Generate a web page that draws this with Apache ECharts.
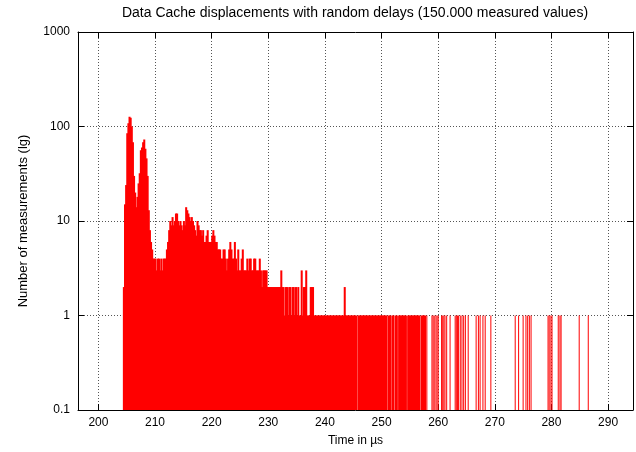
<!DOCTYPE html>
<html><head><meta charset="utf-8">
<script src="https://cdn.jsdelivr.net/npm/echarts@6/dist/echarts.min.js"></script>
<style>html,body{margin:0;padding:0;background:#fff}#c{width:636px;height:452px}</style>
</head><body><div id="c"></div>
<script>
const titleText = 'Data Cache displacements with random delays (150.000 measured values)';
const xName = 'Time in \u00b5s';
const yName = 'Number of measurements (lg)';
const xMin = 196.4, xMax = 294.4;
const yMin = 0.1, yMax = 1000;

// histogram bins of the dense part (bin centres start at binStart, spaced binStep)
const binStart = 204.5;
const binStep = 0.2;
const denseCounts = [
  2,15,24,85,108,127,124,100,68,30,20,14,18,25,32,56,60,68,73,58,46,30,13,8,6,5,4,
  4,4,3,4,4,3,4,3,4,4,4,5,
  6,8,10,9,11,9,10,12,12,10, 9,10,9,8,10,9,14,13,12,11, 10,11,10,9,8,7,10,9,8,8,
  7,8,6,6,7,8,6,6,6,7, 8,7,6,6,5,5,5,4,4,5, 5,4,3,4,
  5,6,5,4,4,6,4,3,5,3, 3,4,5,3,3,3,4,3,4,4, 3,3,4,4,3,3,3,4,3,2, 3,3,3,3,2,
  2,2,2,2,2,2,2,2,2,2, 2,3,2,2,1,2,2,1,2,2, 1,2,2,1,2,1,2,1,1,3, 1,2,2,3,1,1,1,2,2,2,
  1,1,1,1,1,1,1,1,1,1,1,1,1,1,1,1,1,1,1,1,1,1,1,1,1,1,1,
  2,
  1,1,1,1,1,1,1,1,1,1,
  0,
  1,1,1,1,1,1,1,1,1,1,1,1,1,1,1,1,1,1,1,1,1,1,1,1,1,1,
  0,1,1,0,1,1,0,1,1,0,
  1,1,1,1,1,1,1,0,1,1,1,1,1,1,1,1,1,1,1,0,1,1,1,1
];

// isolated single measurements in the tail
const sparseTimes = [258.0,258.9,259.1,259.3,259.6,259.8,260.0,260.6,260.8,261.0,261.2,261.5,262.1,
  263.0,263.2,263.4,263.6,263.9,264.2,264.5,264.8,265.3,266.7,267.1,267.4,267.9,268.3,269.3,
  273.6,274.2,275.0,275.5,275.8,276.1,276.4,279.4,279.6,279.9,280.1,281.2,281.5,281.7,284.9,286.5];
const sparseCounts = [1,1,1,1,1,1,1,1,1,1,1,1,1,1,1,1,1,1,1,1,1,1,1,1,1,1,1,1,1,1,1,1,1,1,1,1,1,1,1,1,1,1,1,1];

const denseData = denseCounts.map((c, i) => [+(binStart + i * binStep).toFixed(2), c]);
const sparseData = sparseTimes.map((t, i) => [t, sparseCounts[i]]);

const FONT = 'Liberation Sans, Arial, Helvetica, sans-serif';

function impulse(widthFn) {
  return function (params, api) {
    const x = api.value(0), y = api.value(1);
    if (!(y > 0)) return null;
    const top = api.coord([x, y]);
    const bot = api.coord([x, yMin]);
    const w = widthFn(api, x, y);
    return {
      type: 'rect',
      shape: { x: top[0] - w / 2, y: top[1], width: w, height: bot[1] - top[1] },
      style: { fill: '#ff0000' }
    };
  };
}

const chart = echarts.init(document.getElementById('c'), null, { renderer: 'canvas' });
const axisLineStyle = { color: '#000', width: 1 };
chart.setOption({
  animation: false,
  backgroundColor: '#fff',
  title: {
    text: titleText, left: 350, top: 1, textAlign: 'center',
    textStyle: { fontFamily: FONT, fontSize: 14, fontWeight: 'normal', color: '#000' }
  },
  grid: { left: 78, right: 3, top: 32, bottom: 42, containLabel: false, outerBoundsMode: 'none' },
  xAxis: [{
    type: 'value', min: xMin, max: xMax, splitNumber: 10,
    name: xName, nameLocation: 'middle', nameGap: 25, nameMoveOverlap: false,
    nameTextStyle: { fontFamily: FONT, fontSize: 12, color: '#000' },
    axisLine: { lineStyle: axisLineStyle },
    axisTick: { inside: true, length: 6, lineStyle: axisLineStyle },
    axisLabel: { showMinLabel: false, showMaxLabel: false, color: '#000', fontFamily: FONT, fontSize: 12, margin: 7 },
    splitLine: { show: true, lineStyle: { color: '#555', width: 1, type: [1, 2] } }
  }, {
    type: 'value', position: 'top', min: xMin, max: xMax, splitNumber: 10,
    axisLine: { show: true, lineStyle: axisLineStyle },
    axisTick: { show: true, inside: true, length: 6, lineStyle: axisLineStyle },
    axisLabel: { show: false }, splitLine: { show: false }
  }],
  yAxis: [{
    type: 'log', logBase: 10, min: yMin, max: yMax,
    name: yName, nameLocation: 'middle', nameGap: 48, nameMoveOverlap: false,
    nameTextStyle: { fontFamily: FONT, fontSize: 13, color: '#000' },
    axisLine: { show: true, lineStyle: axisLineStyle },
    axisTick: { show: true, inside: true, length: 6, lineStyle: axisLineStyle },
    axisLabel: {
      color: '#000', fontFamily: FONT, fontSize: 12, margin: 8,
      formatter: function (v) { return String(+v.toPrecision(6)); }
    },
    splitLine: { show: true, lineStyle: { color: '#555', width: 1, type: [1, 2] } }
  }, {
    type: 'log', logBase: 10, min: yMin, max: yMax, position: 'right',
    axisLine: { show: true, lineStyle: axisLineStyle },
    axisTick: { show: true, inside: true, length: 6, lineStyle: axisLineStyle },
    axisLabel: { show: false }, splitLine: { show: false }
  }],
  series: [{
    type: 'custom', name: 'dense', xAxisIndex: 0, yAxisIndex: 0, clip: true,
    renderItem: impulse(function (api, x, y) {
      return api.coord([x + binStep / 2, y])[0] - api.coord([x - binStep / 2, y])[0] + 0.9;
    }),
    encode: { x: 0, y: 1 }, data: denseData
  }, {
    type: 'custom', name: 'sparse', xAxisIndex: 0, yAxisIndex: 0, clip: true,
    renderItem: impulse(function () { return 1; }),
    encode: { x: 0, y: 1 }, data: sparseData
  }]
});
</script></body></html>
